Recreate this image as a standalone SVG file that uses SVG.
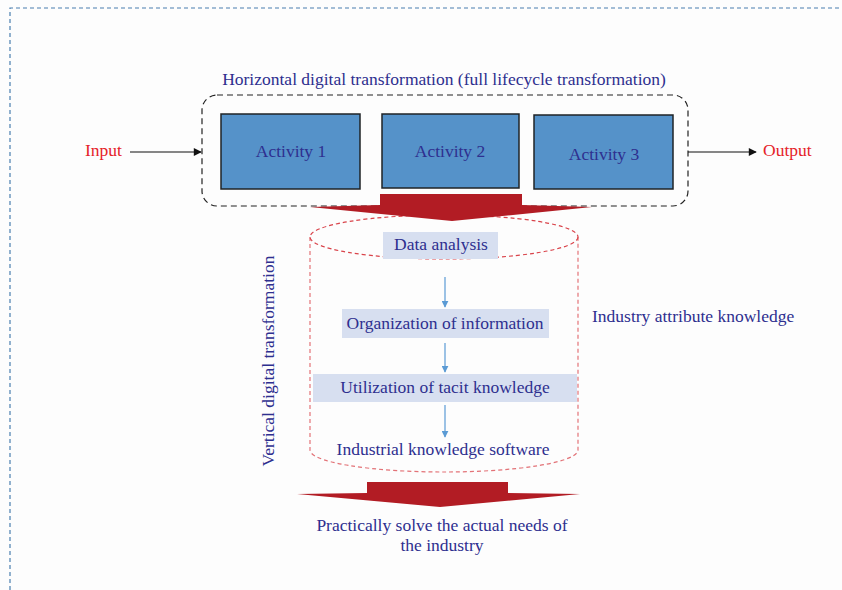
<svg xmlns="http://www.w3.org/2000/svg" width="842" height="590" viewBox="0 0 842 590">
  <style>
    text { font-family: 'Liberation Serif', 'DejaVu Serif', serif; font-size: 17.5px; }
    .txt { fill: #2e2f8f; }
    .red { fill: #e52329; }
    .act { fill: #5592c9; stroke: #1f2326; stroke-width: 1.5; }
    .step { fill: #d7dff0; }
    .flow { stroke: #5b9bd5; stroke-width: 1.2; fill: none; }
    .io { stroke: #111; stroke-width: 1.2; fill: none; }
    .big { fill: #b21c24; }
    .cyl { fill: none; stroke: #d9434a; stroke-width: 1.2; stroke-dasharray: 4 3; }
  </style>
  <defs>
    <marker id="ah-blue" viewBox="0 0 10 10" refX="9" refY="5" markerWidth="7" markerHeight="7" orient="auto" markerUnits="userSpaceOnUse">
      <path d="M0,0 L10,5 L0,10 z" fill="#5b9bd5"/>
    </marker>
    <marker id="ah-black" viewBox="0 0 10 10" refX="9" refY="5" markerWidth="9" markerHeight="8" orient="auto" markerUnits="userSpaceOnUse">
      <path d="M0,0 L10,5 L0,10 z" fill="#111"/>
    </marker>
  </defs>

  <rect width="842" height="590" fill="#fdfdfd"/>

  <!-- page frame -->
  <path d="M10,590 V8 H842" fill="none" stroke="#4a7fb0" stroke-width="1.2" stroke-dasharray="4 3"/>

  <!-- horizontal transformation frame -->
  <g id="horizontal-frame">
    <rect x="202" y="95" width="486" height="111" rx="15" ry="15" fill="none" stroke="#222" stroke-width="1.2" stroke-dasharray="6 4"/>
    <text class="txt" x="444" y="85" text-anchor="middle">Horizontal digital transformation (full lifecycle transformation)</text>
  </g>

  <g id="activity-1">
    <rect class="act" x="221" y="114" width="139" height="75"/>
    <text class="txt" x="291" y="157" text-anchor="middle">Activity 1</text>
  </g>
  <g id="activity-2">
    <rect class="act" x="382" y="114" width="137" height="74"/>
    <text class="txt" x="450" y="157" text-anchor="middle">Activity 2</text>
  </g>
  <g id="activity-3">
    <rect class="act" x="534" y="115" width="139" height="74"/>
    <text class="txt" x="604" y="159.5" text-anchor="middle">Activity 3</text>
  </g>

  <g id="input">
    <text class="red" x="85" y="155.5">Input</text>
  </g>
  <g id="output">
    <text class="red" x="763" y="156">Output</text>
  </g>

  <!-- vertical transformation cylinder -->
  <g id="cylinder">
    <ellipse class="cyl" cx="444" cy="237" rx="134" ry="22"/>
    <path class="cyl" d="M310,237 V450 A134,22 0 0 0 578,450 V237" stroke-opacity="0.75"/>
  </g>

  <g id="data-analysis">
    <rect class="step" x="383" y="232" width="115" height="27"/>
    <text class="txt" x="441" y="250" text-anchor="middle">Data analysis</text>
  </g>
  <g id="organization">
    <rect class="step" x="342" y="309" width="207" height="29"/>
    <text class="txt" x="445" y="329" text-anchor="middle">Organization of information</text>
  </g>
  <g id="utilization">
    <rect class="step" x="313" y="374" width="264" height="28"/>
    <text class="txt" x="445" y="392.5" text-anchor="middle">Utilization of tacit knowledge</text>
  </g>
  <g id="software">
    <text class="txt" x="443" y="455" text-anchor="middle">Industrial knowledge software</text>
  </g>

  <g id="vertical-label">
    <text class="txt" transform="translate(274,361) rotate(-90)" text-anchor="middle">Vertical digital transformation</text>
  </g>

  <g id="attribute-label">
    <text class="txt" x="592" y="322">Industry attribute knowledge</text>
  </g>

  <g id="result">
    <text class="txt" x="442" y="531" text-anchor="middle">Practically solve the actual needs of</text>
    <text class="txt" x="442" y="551" text-anchor="middle">the industry</text>
  </g>

  <!-- connectors -->
  <g id="connectors">
    <line class="io" x1="130" y1="152" x2="201" y2="152" marker-end="url(#ah-black)"/>
    <line class="io" x1="688" y1="152" x2="756" y2="152" marker-end="url(#ah-black)"/>
    <line class="flow" x1="445" y1="277" x2="445" y2="307" marker-end="url(#ah-blue)"/>
    <line class="flow" x1="445" y1="343" x2="445" y2="372" marker-end="url(#ah-blue)"/>
    <line class="flow" x1="445" y1="405" x2="445" y2="437" marker-end="url(#ah-blue)"/>
    <!-- broad block arrows -->
    <path class="big" d="M380,194 H522 V205 L592,207 L452,221 L310,207 L380,205 Z"/>
    <path class="big" d="M367,482 H508 V493 L580,494 L440,507 L297,494 L367,493 Z"/>
  </g>
</svg>
